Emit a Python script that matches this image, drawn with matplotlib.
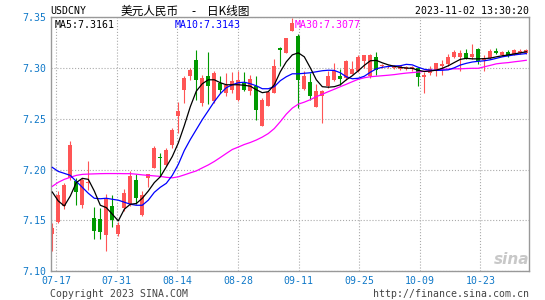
import matplotlib
matplotlib.use('Agg')
import matplotlib.pyplot as plt
import numpy as np

# daily candles 07-14 .. 11-02
opens = [7.1369, 7.1486, 7.1640, 7.1915, 7.1885, 7.1655, 7.1866, 7.1520, 7.1513, 7.1360,
         7.1647, 7.1369, 7.1627, 7.1660, 7.1895, 7.1555, 7.1922, 7.2020, 7.2127, 7.2049,
         7.2248, 7.2525, 7.2787, 7.2918, 7.3081, 7.2660, 7.2925, 7.2673, 7.2853, 7.2755,
         7.2787, 7.2682, 7.2853, 7.2771, 7.2826, 7.2427, 7.2624, 7.2755, 7.3196, 7.3153,
         7.3369, 7.3317, 7.2794, 7.2859, 7.2614, 7.2728, 7.2820, 7.2878, 7.2918, 7.2902,
         7.2944, 7.2967, 7.3065, 7.2918, 7.3108, 7.3016, 7.3010, 7.3005, 7.2990, 7.2996,
         7.2995, 7.3000, 7.2912, 7.2951, 7.2974, 7.3016, 7.3042, 7.3108, 7.3108, 7.3147,
         7.3114, 7.3186, 7.3075, 7.3098, 7.3163, 7.3130, 7.3163, 7.3131, 7.3147, 7.3147]
highs = [7.1474, 7.1787, 7.1870, 7.2287, 7.1915, 7.1920, 7.2081, 7.1637, 7.1627, 7.1758,
         7.1748, 7.1488, 7.1807, 7.1986, 7.1954, 7.1790, 7.1954, 7.2231, 7.2160, 7.2209,
         7.2412, 7.2663, 7.2918, 7.3000, 7.3180, 7.2930, 7.3160, 7.2967, 7.2918, 7.2951,
         7.2957, 7.2967, 7.2957, 7.2934, 7.2918, 7.2706, 7.2771, 7.3088, 7.3210, 7.3300,
         7.3497, 7.3333, 7.2967, 7.2951, 7.2846, 7.2780, 7.2967, 7.3055, 7.2990, 7.3081,
         7.3072, 7.3127, 7.3130, 7.3141, 7.3163, 7.3042, 7.3032, 7.3030, 7.3035, 7.3020,
         7.3020, 7.3005, 7.2957, 7.3023, 7.3055, 7.3084, 7.3141, 7.3180, 7.3180, 7.3186,
         7.3238, 7.3196, 7.3131, 7.3186, 7.3196, 7.3173, 7.3180, 7.3190, 7.3185, 7.3190]
lows = [7.1199, 7.1480, 7.1610, 7.1895, 7.1655, 7.1625, 7.1797, 7.1322, 7.1317, 7.1202,
        7.1434, 7.1351, 7.1594, 7.1643, 7.1660, 7.1545, 7.1826, 7.2020, 7.1937, 7.2035,
        7.2216, 7.2363, 7.2657, 7.2885, 7.2689, 7.2630, 7.2650, 7.2657, 7.2755, 7.2722,
        7.2755, 7.2673, 7.2771, 7.2738, 7.2493, 7.2427, 7.2624, 7.2755, 7.3016, 7.3147,
        7.3369, 7.2608, 7.2780, 7.2689, 7.2614, 7.2461, 7.2804, 7.2869, 7.2836, 7.2885,
        7.2938, 7.2958, 7.3000, 7.2902, 7.2934, 7.3000, 7.2997, 7.2995, 7.2980, 7.2985,
        7.2970, 7.2820, 7.2755, 7.2928, 7.2925, 7.2930, 7.3016, 7.3098, 7.2967, 7.3088,
        7.3094, 7.3045, 7.2967, 7.3092, 7.3141, 7.3120, 7.3114, 7.3125, 7.3140, 7.3140]
closes = [7.1427, 7.1748, 7.1846, 7.2248, 7.1780, 7.1895, 7.1882, 7.1398, 7.1382, 7.1709,
          7.1506, 7.1454, 7.1775, 7.1937, 7.1719, 7.1748, 7.1954, 7.2209, 7.2114, 7.2189,
          7.2395, 7.2581, 7.2902, 7.2983, 7.2885, 7.2905, 7.2820, 7.2951, 7.2787, 7.2836,
          7.2869, 7.2885, 7.2787, 7.2895, 7.2591, 7.2682, 7.2761, 7.3022, 7.3179, 7.3300,
          7.3447, 7.2878, 7.2918, 7.2728, 7.2778, 7.2771, 7.2925, 7.2974, 7.2892, 7.3072,
          7.2990, 7.3114, 7.3127, 7.3131, 7.2983, 7.3032, 7.3023, 7.3020, 7.3023, 7.3010,
          7.3005, 7.2912, 7.2934, 7.2990, 7.3055, 7.3042, 7.3108, 7.3157, 7.3147, 7.3098,
          7.3140, 7.3065, 7.3098, 7.3173, 7.3153, 7.3163, 7.3120, 7.3179, 7.3173, 7.3179]

ma5 = [7.1780, 7.1692, 7.1643, 7.1741, 7.1873, 7.1915, 7.1905, 7.1790, 7.1650, 7.1627,
       7.1562, 7.1496, 7.1611, 7.1660, 7.1667, 7.1719, 7.1790, 7.1873, 7.1930, 7.2028,
       7.2130, 7.2263, 7.2434, 7.2620, 7.2773, 7.2846, 7.2885, 7.2885, 7.2856, 7.2836,
       7.2836, 7.2836, 7.2831, 7.2822, 7.2787, 7.2758, 7.2768, 7.2836, 7.2964, 7.3062,
       7.3130, 7.3150, 7.3111, 7.3003, 7.2885, 7.2817, 7.2812, 7.2817, 7.2836, 7.2885,
       7.2925, 7.2974, 7.3027, 7.3072, 7.3076, 7.3052, 7.3032, 7.3018, 7.3008, 7.3000,
       7.2998, 7.2978, 7.2967, 7.2971, 7.2980, 7.2998, 7.3023, 7.3055, 7.3086, 7.3096,
       7.3091, 7.3091, 7.3093, 7.3098, 7.3111, 7.3121, 7.3130, 7.3140, 7.3150, 7.3161]
ma10 = [7.2023, 7.1983, 7.1964, 7.1944, 7.1885, 7.1827, 7.1768, 7.1719, 7.1714, 7.1719,
        7.1709, 7.1700, 7.1680, 7.1660, 7.1650, 7.1650, 7.1700, 7.1777, 7.1827, 7.1866,
        7.1944, 7.2052, 7.2189, 7.2297, 7.2395, 7.2493, 7.2581, 7.2670, 7.2748, 7.2807,
        7.2836, 7.2856, 7.2861, 7.2846, 7.2826, 7.2797, 7.2797, 7.2817, 7.2876, 7.2915,
        7.2944, 7.2944, 7.2949, 7.2954, 7.2964, 7.2974, 7.2979, 7.2977, 7.2954, 7.2915,
        7.2895, 7.2900, 7.2920, 7.2959, 7.2993, 7.3008, 7.3016, 7.3021, 7.3023, 7.3037,
        7.3032, 7.3008, 7.2988, 7.2980, 7.2977, 7.2979, 7.2983, 7.3003, 7.3030, 7.3047,
        7.3060, 7.3067, 7.3072, 7.3082, 7.3096, 7.3111, 7.3121, 7.3130, 7.3137, 7.3143]
ma30 = [7.1836, 7.1876, 7.1905, 7.1925, 7.1944, 7.1954, 7.1957, 7.1959, 7.1961, 7.1962,
        7.1962, 7.1962, 7.1961, 7.1961, 7.1956, 7.1949, 7.1944, 7.1939, 7.1934, 7.1925,
        7.1920, 7.1930, 7.1949, 7.1969, 7.1988, 7.2018, 7.2047, 7.2081, 7.2120, 7.2160,
        7.2199, 7.2223, 7.2248, 7.2268, 7.2292, 7.2321, 7.2356, 7.2405, 7.2473, 7.2547,
        7.2606, 7.2645, 7.2665, 7.2689, 7.2719, 7.2743, 7.2768, 7.2792, 7.2817, 7.2841,
        7.2866, 7.2890, 7.2905, 7.2915, 7.2920, 7.2925, 7.2930, 7.2936, 7.2944, 7.2951,
        7.2956, 7.2961, 7.2969, 7.2975, 7.2981, 7.2988, 7.2991, 7.2993, 7.2993, 7.2996,
        7.2998, 7.2998, 7.3013, 7.3027, 7.3042, 7.3049, 7.3054, 7.3062, 7.3069, 7.3077]

date_labels = ['07-17', '07-31', '08-14', '08-28', '09-11', '09-25', '10-09', '10-23']
price_ticks = [7.10, 7.15, 7.20, 7.25, 7.30, 7.35]

RED = '#ff5555'
GREEN = '#009900'
LABEL_BLUE = '#0f78c8'
MONO = ['DejaVu Sans Mono', 'Noto Sans CJK SC']
CJK = ['Noto Sans CJK SC', 'DejaVu Sans']

plt.rcParams['font.family'] = MONO

W, H = 545, 300
fig = plt.figure(figsize=(W / 100, H / 100), dpi=100)
left, right, top, bottom = 50.5, 529, 17.3, 271.3
ax = fig.add_axes([left / W, 1 - bottom / H, (right - left) / W, (bottom - top) / H])

x = np.arange(len(closes))
o = np.array(opens)
c = np.array(closes)
cols = np.where(c >= o, RED, GREEN)

ax.vlines(x, lows, highs, colors=cols, lw=0.8, zorder=2)
ax.bar(x, np.maximum(np.abs(c - o), 0.0012), bottom=np.minimum(o, c),
       width=0.66, color=cols, linewidth=0, zorder=2)

ax.plot(x, ma30, color='#ff00ff', lw=0.9, zorder=3)
ax.plot(x, ma10, color='#0000ff', lw=0.9, zorder=3)
ax.plot(x, ma5, color='black', lw=0.9, zorder=4)

ax.set_xlim(-0.3, 79.45)
ax.set_ylim(price_ticks[0], price_ticks[-1])
ax.set_yticks(price_ticks)
ax.set_yticklabels(['%.2f' % p for p in price_ticks])
ax.set_xticks(0.65 + 10.1 * np.arange(len(date_labels)))
ax.set_xticklabels(date_labels)
ax.tick_params(length=0, labelsize=7.1, colors=LABEL_BLUE)
ax.tick_params(axis='y', pad=3.0)
ax.tick_params(axis='x', pad=3.2)
ax.grid(True, linestyle=':', color='#aaaaaa', lw=0.8, zorder=0)
ax.set_axisbelow(True)
for s in ax.spines.values():
    s.set_color('#999999')
    s.set_linewidth(1.0)

def ftext(px, py, s, **kw):
    fig.text(px / W, 1 - py / H, s, va='center', **kw)

ftext(50.4, 11.5, 'USDCNY', size=7.1, color='black')
ftext(121, 11.5, '美元人民币', size=8.4, color='black', family=CJK)
ftext(193, 11.5, '-', size=8.4, color='black', ha='center', family=CJK)
ftext(207, 11.5, '日K线图', size=8.4, color='black', family=CJK)
ftext(529, 11.5, '2023-11-02 13:30:20', size=7.1, color='black', ha='right')

ftext(54.6, 25, 'MA5:%.4f' % ma5[-1], size=7.1, color='black', zorder=5)
ftext(174.5, 25, 'MA10:%.4f' % ma10[-1], size=7.1, color='#0000ff', zorder=5)
ftext(294.7, 25, 'MA30:%.4f' % ma30[-1], size=7.1, color='#ff00ff', zorder=5)

ftext(49.7, 293.7, 'Copyright 2023 SINA.COM', size=7.1, color='#444444')
ftext(529, 293.7, 'http://finance.sina.com.cn', size=7.1, color='#444444', ha='right')

ftext(512, 259, 'sina', size=11, color='#c8c8c8', ha='center', style='italic',
      weight='bold', family='DejaVu Sans')

fig.savefig('out.png', dpi=100)
